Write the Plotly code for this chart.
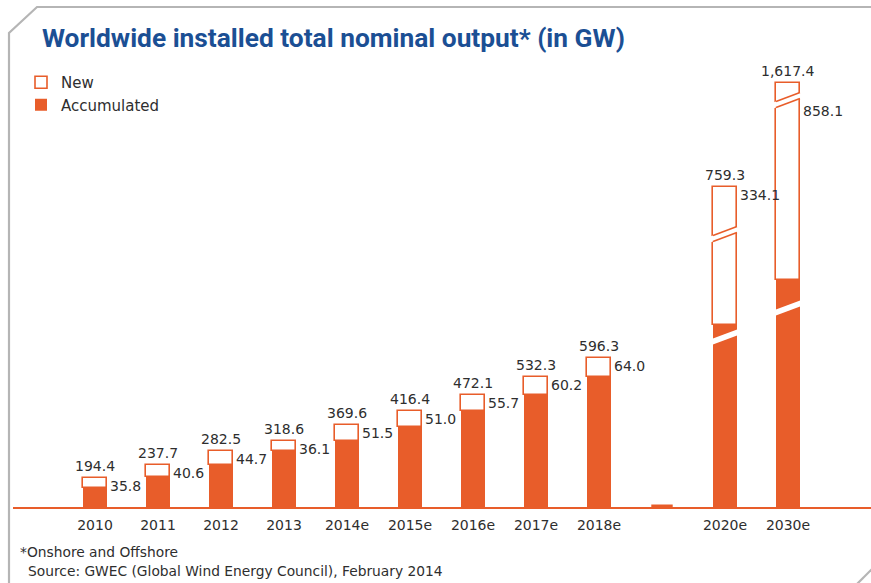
import plotly.graph_objects as go

# ---------------- data ----------------
years = ["2010", "2011", "2012", "2013", "2014e", "2015e", "2016e", "2017e", "2018e", "2020e", "2030e"]
total_gw = [194.4, 237.7, 282.5, 318.6, 369.6, 416.4, 472.1, 532.3, 596.3, 759.3, 1617.4]
new_gw = [35.8, 40.6, 44.7, 36.1, 51.5, 51.0, 55.7, 60.2, 64.0, 334.1, 858.1]
broken_years = ["2020e", "2030e"]          # bars drawn with an axis break
gap_after = "2018e"                        # empty slot in the time axis after this year

title_text = "Worldwide installed total nominal output* (in GW)"
legend_new = "New"
legend_acc = "Accumulated"
footnote_1 = "*Onshore and Offshore"
footnote_2 = "Source: GWEC (Global Wind Energy Council), February 2014"

accumulated_gw = [round(t - n, 1) for t, n in zip(total_gw, new_gw)]

# ---------------- style / layout ----------------
W, H = 871, 583
ML, MR, MT, MB = 13, 0, 60, 76
PW, PH = W - ML - MR, H - MT - MB
BASE_PX = H - MB

ORANGE = "#E85D2A"
BLUE = "#1B4F94"
TEXT = "#2E2E2E"
FRAME = "#B5B5B5"
NUM_FONT = "DejaVu Sans"

SLOT_PX = 63.0
FIRST_CENTER_PX = 95.0
BAR_W = 0.38

# display scales (px per GW and value at the baseline) for the normal and the broken bars
MAIN_SCALE = (0.2984, 95.9)
BROKEN_SCALES = {"2020e": (0.412, -16.5), "2030e": (0.230, -226.0)}
# where the break sits, as fraction of the displayed accumulated / new segment
BREAK_ACC_FRAC = {"2020e": 0.934, "2030e": 0.878}
BREAK_NEW_FRAC = {"2020e": 0.661, "2030e": 0.914}
BREAK_RISE_PX = 9
BREAK_GAP_PX = 6

categories = []
for y in years:
    categories.append(y)
    if y == gap_after:
        categories.append(" ")
idx = {c: i for i, c in enumerate(categories)}


def px_x(px):
    return (px - ML) / PW


def px_y(py):
    return (BASE_PX - py) / PH


def y_range(scale):
    a, floor = scale
    return [floor, floor + PH / a]


axis_of = {}
scale_of = {}
for y in years:
    if y in broken_years:
        k = broken_years.index(y) + 2
        axis_of[y] = "y%d" % k
        scale_of[y] = BROKEN_SCALES[y]
    else:
        axis_of[y] = "y"
        scale_of[y] = MAIN_SCALE

fig = go.Figure()

groups = {}
for y, t, n, a in zip(years, total_gw, new_gw, accumulated_gw):
    groups.setdefault(axis_of[y], []).append((y, t, n, a))

first = True
for ax, items in groups.items():
    floor = scale_of[items[0][0]][1]
    xs = [it[0] for it in items]
    fig.add_trace(go.Bar(
        x=xs, y=[it[3] - floor for it in items], base=[floor] * len(items),
        yaxis=ax, width=BAR_W, name=legend_acc, legendgroup="acc", legendrank=2,
        showlegend=first, marker=dict(color=ORANGE, line=dict(width=0)),
        hoverinfo="skip"))
    fig.add_trace(go.Bar(
        x=xs, y=[it[2] for it in items], base=[it[3] for it in items],
        yaxis=ax, width=BAR_W, name=legend_new, legendgroup="new", legendrank=1,
        showlegend=first, marker=dict(color="white", line=dict(color=ORANGE, width=1.6)),
        hoverinfo="skip"))
    first = False

shapes = []
annotations = []

# value labels
for y, t, n, a in zip(years, total_gw, new_gw, accumulated_gw):
    ax = axis_of[y]
    i = idx[y]
    annotations.append(dict(x=i, y=t, xref="x", yref=ax, text=f"{t:,.1f}",
                            showarrow=False, yanchor="middle", yshift=12,
                            font=dict(family=NUM_FONT, size=14, color=TEXT)))
    ny, nshift = t, -8
    if y in broken_years:
        s, floor = scale_of[y]
        nb = a + BREAK_NEW_FRAC[y] * n
        if (t - nb) * s < 30:
            ny, nshift = nb, -11
    annotations.append(dict(x=i + BAR_W / 2, y=ny, xref="x", yref=ax, text=f"{n:,.1f}",
                            showarrow=False, xanchor="left", xshift=1, yanchor="middle",
                            yshift=nshift, font=dict(family=NUM_FONT, size=14, color=TEXT)))

# axis-break marks on the broken bars
for y in broken_years:
    i = idx[y]
    s, floor = scale_of[y]
    ax = axis_of[y]
    n = new_gw[years.index(y)]
    a = accumulated_gw[years.index(y)]
    half_rise = BREAK_RISE_PX / 2 / s
    half_gap = BREAK_GAP_PX / 2 / s
    ext = 0.045
    for center, with_edges in ((floor + BREAK_ACC_FRAC[y] * (a - floor), False),
                               (a + BREAK_NEW_FRAC[y] * n, True)):
        xl, xr = i - BAR_W / 2, i + BAR_W / 2
        k = (2 * half_rise) / BAR_W
        xl2, xr2 = xl - ext, xr + ext
        yl = center - half_rise - ext * k
        yr = center + half_rise + ext * k
        path = (f"M {xl2},{yl - half_gap} L {xr2},{yr - half_gap} "
                f"L {xr2},{yr + half_gap} L {xl2},{yl + half_gap} Z")
        shapes.append(dict(type="path", path=path, xref="x", yref=ax,
                           fillcolor="white", line=dict(width=0), layer="above"))
        if with_edges:
            for sgn in (-1, 1):
                shapes.append(dict(type="line", xref="x", yref=ax,
                                   x0=xl, x1=xr,
                                   y0=center - half_rise + sgn * half_gap,
                                   y1=center + half_rise + sgn * half_gap,
                                   line=dict(color=ORANGE, width=1.6), layer="above"))

# small marker in the empty slot of the time axis
gi = idx[" "]
shapes.append(dict(type="rect", xref="x", yref="paper", x0=gi - BAR_W / 2 + 0.02,
                   x1=gi + BAR_W / 2 - 0.02, y0=0, y1=px_y(BASE_PX - 2.5),
                   fillcolor=ORANGE, line=dict(width=0), layer="above"))

# frame with cut corners
frame_pts = [(9, 584), (9, 33), (37, 7), (872, 7)]
path = "M " + " L ".join(f"{px_x(x)},{px_y(y)}" for x, y in frame_pts)
shapes.append(dict(type="path", path=path, xref="paper", yref="paper",
                   line=dict(color=FRAME, width=2.2)))
shapes.append(dict(type="line", xref="paper", yref="paper",
                   x0=px_x(857), y0=px_y(584), x1=px_x(872), y1=px_y(569),
                   line=dict(color=FRAME, width=2.2)))

# title and footnotes
annotations.append(dict(x=px_x(40), y=px_y(38), xref="paper", yref="paper", text=title_text,
                        showarrow=False, xanchor="left", yanchor="middle",
                        font=dict(family="Roboto", size=26.3, color=BLUE, weight="bold")))
annotations.append(dict(x=px_x(18), y=px_y(552), xref="paper", yref="paper", text=footnote_1,
                        showarrow=False, xanchor="left", yanchor="middle",
                        font=dict(family=NUM_FONT, size=13.8, color=TEXT)))
annotations.append(dict(x=px_x(26), y=px_y(571), xref="paper", yref="paper", text=footnote_2,
                        showarrow=False, xanchor="left", yanchor="middle",
                        font=dict(family=NUM_FONT, size=13.8, color=TEXT)))

x0 = -(FIRST_CENTER_PX - ML) / SLOT_PX
layout = dict(
    width=W, height=H, margin=dict(l=ML, r=MR, t=MT, b=MB, pad=0),
    paper_bgcolor="white", plot_bgcolor="white",
    barmode="overlay", bargap=0,
    showlegend=True,
    legend=dict(x=px_x(21), y=px_y(66), xanchor="left", yanchor="top",
                bgcolor="rgba(0,0,0,0)", borderwidth=0, tracegroupgap=0,
                font=dict(family=NUM_FONT, size=15, color=TEXT), traceorder="normal"),
    xaxis=dict(type="category", categoryorder="array", categoryarray=categories,
               range=[x0, x0 + PW / SLOT_PX], showgrid=False, zeroline=False,
               showline=True, linecolor=ORANGE, linewidth=1.5, ticks="",
               ticklabelstandoff=4,
               tickfont=dict(family=NUM_FONT, size=14, color=TEXT), fixedrange=True),
    yaxis=dict(range=y_range(MAIN_SCALE), visible=False, fixedrange=True),
    shapes=shapes, annotations=annotations,
)
for y in broken_years:
    k = broken_years.index(y) + 2
    layout["yaxis%d" % k] = dict(range=y_range(scale_of[y]), overlaying="y",
                                 visible=False, fixedrange=True)
fig.update_layout(**layout)
fig.write_html("out.html", config={"displayModeBar": False},
               post_script="document.body.style.margin='0px';document.body.style.overflow='hidden';")
